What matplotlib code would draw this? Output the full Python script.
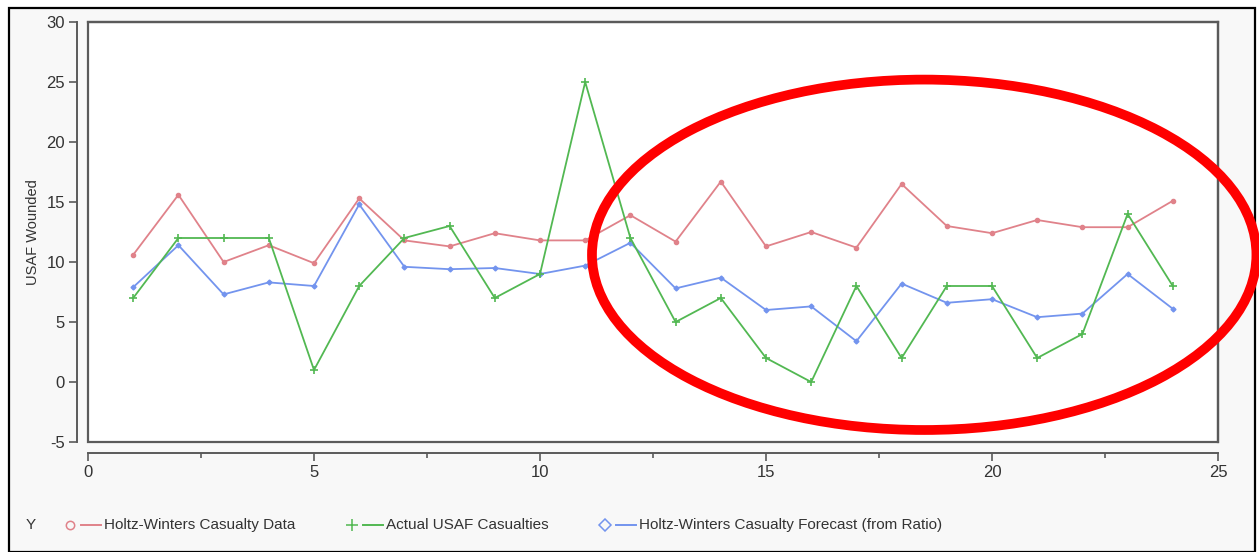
import numpy as np
import matplotlib
matplotlib.use("Agg")
import matplotlib.pyplot as plt
from matplotlib.patches import Ellipse, Rectangle
from matplotlib.lines import Line2D
from matplotlib import font_manager

# -----------------------------------------------------------------------------
# DATA
# -----------------------------------------------------------------------------

periods = list(range(1, 25))

hw_data = [10.6, 15.6, 10.0, 11.4, 9.9, 15.3, 11.8, 11.3, 12.4, 11.8, 11.8, 13.9,
           11.7, 16.7, 11.3, 12.5, 11.2, 16.5, 13.0, 12.4, 13.5, 12.9, 12.9, 15.1]

actual = [7, 12, 12, 12, 1, 8, 12, 13, 7, 9, 25, 12,
          5, 7, 2, 0, 8, 2, 8, 8, 2, 4, 14, 8]

hw_forecast = [7.9, 11.4, 7.3, 8.3, 8.0, 14.8, 9.6, 9.4, 9.5, 9.0, 9.7, 11.6,
               7.8, 8.7, 6.0, 6.3, 3.4, 8.2, 6.6, 6.9, 5.4, 5.7, 9.0, 6.1]

series_names = ["Holtz-Winters Casualty Data",
                "Actual USAF Casualties",
                "Holtz-Winters Casualty Forecast (from Ratio)"]

x_ticks = [0, 5, 10, 15, 20, 25]
y_ticks = [-5, 0, 5, 10, 15, 20, 25, 30]

# -----------------------------------------------------------------------------
# STYLE
# -----------------------------------------------------------------------------

names = {f.name for f in font_manager.fontManager.ttflist}
FONT = ["Liberation Sans Narrow", "Liberation Sans", "DejaVu Sans"]
FONT = [f for f in FONT if f in names] or ["DejaVu Sans"]
plt.rcParams["font.family"] = FONT
plt.rcParams["axes.unicode_minus"] = False

RED   = "#e0828a"
GREEN = "#52b852"
BLUE  = "#7394ee"
AXC   = "#5a5a5a"
TXT   = "#333333"

fig = plt.figure(figsize=(12.59, 5.52), dpi=100)
fig.patch.set_facecolor("white")

# outer panel with black border
fig.patches.append(Rectangle((9 / 1259, 0.0), 1246 / 1259, 544 / 552,
                             transform=fig.transFigure, facecolor="#f8f8f8",
                             edgecolor="black", linewidth=1.6, zorder=-10))

ax = fig.add_axes([88 / 1259, 1 - 442 / 552, (1218 - 88) / 1259, (442 - 22) / 552])
ax.set_facecolor("white")

ax.plot(periods, hw_data, color=RED, linewidth=1.3, marker="o", markersize=3,
        markerfacecolor=RED, markeredgecolor=RED, zorder=3)
ax.plot(periods, actual, color=GREEN, linewidth=1.3, marker="+", markersize=6,
        markeredgewidth=1.2, zorder=4)
ax.plot(periods, hw_forecast, color=BLUE, linewidth=1.3, marker="D", markersize=2.5,
        markerfacecolor=BLUE, markeredgecolor=BLUE, zorder=3)

ax.set_xlim(0, 25)
ax.set_ylim(-5, 30)

# detached axis lines (left and bottom), frame drawn separately
for side in ["top", "right"]:
    ax.spines[side].set_color(AXC)
    ax.spines[side].set_linewidth(1.6)
ax.spines["left"].set_position(("outward", 8))
ax.spines["bottom"].set_position(("outward", 8))
for side in ["left", "bottom"]:
    ax.spines[side].set_color(AXC)
    ax.spines[side].set_linewidth(1.4)
ax.add_patch(Rectangle((0, 0), 1, 1, transform=ax.transAxes, fill=False,
                       edgecolor=AXC, linewidth=1.6, clip_on=False, zorder=5))

ax.set_xticks(x_ticks)
ax.set_xticks(np.arange(2.5, 25, 5), minor=True)
ax.set_yticks(y_ticks)
ax.tick_params(axis="both", which="major", direction="out", length=5.5, width=1.2,
               color=AXC, labelsize=12, labelcolor=TXT)
ax.tick_params(axis="x", which="minor", direction="out", length=3.5, width=1.2, color=AXC)
ax.tick_params(axis="y", pad=3)
ax.tick_params(axis="x", pad=3)
ax.set_ylabel("USAF Wounded", fontsize=10.5, color=TXT, labelpad=5)

# red highlight ellipse
ax.add_patch(Ellipse((18.5, 10.6), 14.7, 29.2, fill=False, edgecolor="#ff0000",
                     linewidth=7, clip_on=False, zorder=6))

# custom legend at the bottom
ly = 1 - 525 / 552
fig.text(26 / 1259, ly, "Y", fontsize=11, va="center", color=TXT)
legend_items = [(70, RED, "o", series_names[0]),
                (352, GREEN, "+", series_names[1]),
                (605, BLUE, "D", series_names[2])]
for px, col, mk, label in legend_items:
    fig.add_artist(Line2D([px / 1259], [ly], transform=fig.transFigure, marker=mk,
                          markersize=8 if mk == "+" else 6,
                          markerfacecolor="none", markeredgecolor=col,
                          markeredgewidth=1.1, linestyle="none"))
    fig.add_artist(Line2D([(px + 11) / 1259, (px + 31) / 1259], [ly, ly],
                          transform=fig.transFigure, color=col, linewidth=1.4))
    fig.text((px + 34) / 1259, ly, label, fontsize=11, va="center", color=TXT)

fig.savefig("out.png", dpi=100)
